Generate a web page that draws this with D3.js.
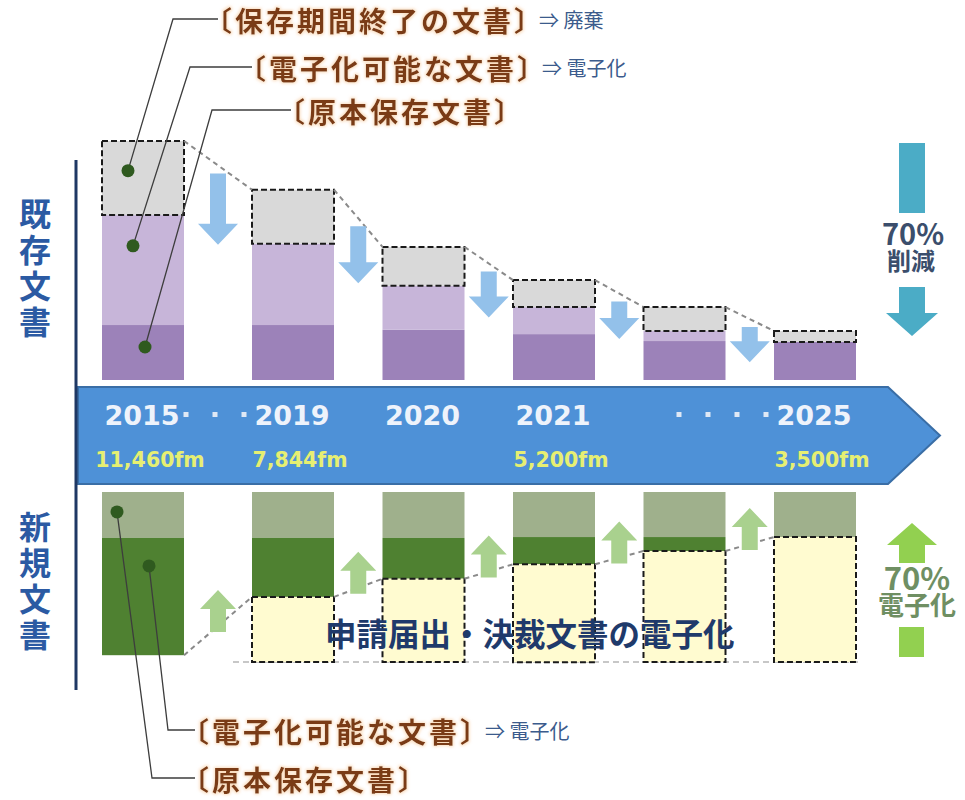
<!DOCTYPE html>
<html lang="ja">
<head>
<meta charset="utf-8">
<title>既存文書・新規文書の削減と電子化</title>
<script src="https://cdn.jsdelivr.net/npm/d3@7/dist/d3.min.js"></script>
<style>
  html, body { margin: 0; padding: 0; background: #ffffff; }
  svg { display: block; }
</style>
</head>
<body>
<svg id="chart" width="965" height="800"></svg>
<script>
// ---------------- data ----------------
// Timeline stages: the 2015 baseline followed by the plan years
const baseStage  = "2015";
const planStages = ["2019", "2020", "2021", "…", "2025"];
const stages     = [baseStage, ...planStages];

// 既存文書 (existing documents), relative volume, 2015 total = 100
const expiredDocs     = [31, 22.6, 16.3, 11.3, 10, 4.6];   // 保存期間終了の文書 ⇒ 廃棄
const digitizableDocs = [46, 34, 18.4, 11.3, 4.2, 0];      // 電子化可能な文書 ⇒ 電子化
const originalDocs    = [23, 23, 21, 19.2, 16.3, 15.9];    // 原本保存文書

// 新規文書 (new documents), share of each year's intake, stacked from the top
const newOriginalDocs    = [27, 27, 27, 26.5, 26.5, 26.5]; // 原本保存文書
const newDigitizableDocs = [69, 34.7, 24, 16, 8.2, 0];     // 電子化可能な文書
const newDigitizedDocs   = [0, 38.3, 49, 57.6, 65.3, 73.5];// 電子化済み (申請届出・決裁文書)

// Timeline band labels
const yearLabels   = ["2015", "2019", "2020", "2021", "", "2025"];
const volumeLabels = ["11,460fm", "7,844fm", "", "5,200fm", "", "3,500fm"];

// ---------------- setup ----------------
const JP = "'Noto Sans CJK JP', 'Noto Sans', sans-serif";
const LAT = "'DejaVu Sans', Verdana, sans-serif";
const svg = d3.select("#chart");

// soft orange halo behind the callout labels
const defs = svg.append("defs");
const glow = defs.append("filter").attr("id", "glow")
  .attr("x", "-10%").attr("y", "-40%").attr("width", "120%").attr("height", "180%");
glow.append("feMorphology").attr("in", "SourceAlpha").attr("operator", "dilate").attr("radius", 1).attr("result", "d");
glow.append("feGaussianBlur").attr("in", "d").attr("stdDeviation", 1.6).attr("result", "b");
glow.append("feFlood").attr("flood-color", "#f7c796").attr("flood-opacity", 0.6);
glow.append("feComposite").attr("in2", "b").attr("operator", "in").attr("result", "g");
const gm = glow.append("feMerge");
gm.append("feMergeNode").attr("in", "g");
gm.append("feMergeNode").attr("in", "SourceGraphic");

// x: the baseline year sits apart from the evenly spaced plan years
const xBase = d3.scaleBand().domain([baseStage]).range([102, 184]);
const xPlan = d3.scaleBand().domain(planStages).range([252, 856]).paddingInner(0.3716);
const x = s => (s === baseStage ? xBase(s) : xPlan(s));
const bw = xPlan.bandwidth();
const cx = s => x(s) + bw / 2;

// y: existing documents grow upward from the band, new documents hang below it
const yTop = d3.scaleLinear().domain([0, 100]).range([380, 141]);
const yBot = d3.scaleLinear().domain([0, 100]).range([492, 662]);

const topRows = stages.map((s, i) => ({
  stage: s, original: originalDocs[i], digitizable: digitizableDocs[i], expired: expiredDocs[i]
}));
const topSeries = d3.stack().keys(["original", "digitizable", "expired"])(topRows);

const botRows = stages.map((s, i) => ({
  stage: s, keep: newOriginalDocs[i], digitizable: newDigitizableDocs[i], digitized: newDigitizedDocs[i]
}));
const botSeries = d3.stack().keys(["keep", "digitizable", "digitized"])(botRows);

const topColors = { original: "#9c82b9", digitizable: "#c7b5d9", expired: "#d9d9d9" };
const botColors = { keep: "#9fb08c", digitizable: "#4f8131", digitized: "#fffbd0" };
const dashedKeys = new Set(["expired", "digitized"]);

function arrowPath(c, yStart, yTip, shaftHalf, headHalf, headLen) {
  const dir = Math.sign(yTip - yStart);
  const hb = yTip - dir * headLen;
  return `M${c - shaftHalf},${yStart}L${c + shaftHalf},${yStart}L${c + shaftHalf},${hb}` +
         `L${c + headHalf},${hb}L${c},${yTip}L${c - headHalf},${hb}L${c - shaftHalf},${hb}Z`;
}

// ---------------- existing documents (top) ----------------
const gTop = svg.append("g");
topSeries.forEach(series => {
  gTop.append("g").selectAll("rect")
    .data(series.filter(p => p[1] - p[0] > 0))
    .join("rect")
    .attr("x", p => x(p.data.stage))
    .attr("y", p => yTop(p[1]))
    .attr("width", bw)
    .attr("height", p => yTop(p[0]) - yTop(p[1]))
    .attr("fill", topColors[series.key])
    .attr("stroke", dashedKeys.has(series.key) ? "#1a1a1a" : "none")
    .attr("stroke-width", 2)
    .attr("stroke-dasharray", "6,3");
});

const topTotal = topRows.map(r => r.original + r.digitizable + r.expired);
// dashed trend line across the tops
gTop.append("g").selectAll("line")
  .data(d3.pairs(d3.range(stages.length)))
  .join("line")
  .attr("x1", ([a]) => x(stages[a]) + bw).attr("y1", ([a]) => yTop(topTotal[a]))
  .attr("x2", ([, b]) => x(stages[b])).attr("y2", ([, b]) => yTop(topTotal[b]))
  .attr("stroke", "#8a8a8a").attr("stroke-width", 2).attr("stroke-dasharray", "5,4");

// reduction arrows in the gaps
gTop.append("g").selectAll("path")
  .data(d3.pairs(d3.range(stages.length)))
  .join("path")
  .attr("d", ([a, b]) => {
    const gx = (x(stages[a]) + bw + x(stages[b])) / 2;
    const top = (yTop(topTotal[a]) + yTop(topTotal[b])) / 2 + 8;
    const len = 18 + (yTop(0) - yTop(expiredDocs[a])) * 0.72;
    return arrowPath(gx, top, top + len, 8, 20, 21);
  })
  .attr("fill", "#93c1ea");

// ---------------- timeline band ----------------
const band = { x0: 78, x1: 888, tip: 940, y0: 387, y1: 484 };
svg.append("path")
  .attr("d", `M${band.x0},${band.y0}L${band.x1},${band.y0}L${band.tip},${(band.y0 + band.y1) / 2}` +
             `L${band.x1},${band.y1}L${band.x0},${band.y1}Z`)
  .attr("fill", "#4e91d7").attr("stroke", "#3a6ea6").attr("stroke-width", 2);

const gBand = svg.append("g");
gBand.selectAll("text.year")
  .data(stages.map((s, i) => ({ s, t: yearLabels[i] })).filter(d => d.t))
  .join("text").attr("class", "year")
  .attr("x", d => cx(d.s) - 1).attr("y", 425)
  .attr("text-anchor", "middle")
  .attr("font-family", LAT).attr("font-weight", "bold").attr("font-size", 27)
  .attr("fill", "#eef3fb")
  .text(d => d.t);

gBand.selectAll("text.vol")
  .data(stages.map((s, i) => ({ s, t: volumeLabels[i] })).filter(d => d.t))
  .join("text").attr("class", "vol")
  .attr("x", d => cx(d.s) + 7).attr("y", 467)
  .attr("text-anchor", "middle")
  .attr("font-family", LAT).attr("font-weight", "bold").attr("font-size", 20.5)
  .attr("fill", "#e6ef72")
  .text(d => d.t);

// ellipsis dots leading into 2019 and 2025
const dotRuns = [{ to: "2019", n: 3 }, { to: "2025", n: 4 }];
dotRuns.forEach(run => {
  const end = cx(run.to) - 37 - 12;
  gBand.append("g").selectAll("rect")
    .data(d3.range(run.n))
    .join("rect")
    .attr("x", k => end - (run.n - 1 - k) * 29 - 2.5)
    .attr("y", 412)
    .attr("width", 5).attr("height", 5)
    .attr("fill", "#dfe8f5");
});

// ---------------- new documents (bottom) ----------------
const gBot = svg.append("g");
const botKD = botRows.map(r => r.keep + r.digitizable);

gBot.append("line")
  .attr("x1", x(planStages[0]) - 19).attr("x2", x(planStages[planStages.length - 1]) + bw + 2)
  .attr("y1", yBot(100)).attr("y2", yBot(100))
  .attr("stroke", "#b5b5b5").attr("stroke-width", 1.5).attr("stroke-dasharray", "6,4");

botSeries.forEach(series => {
  gBot.append("g").selectAll("rect")
    .data(series.filter(p => p[1] - p[0] > 0))
    .join("rect")
    .attr("x", p => x(p.data.stage))
    .attr("y", p => yBot(p[0]))
    .attr("width", bw)
    .attr("height", p => yBot(p[1]) - yBot(p[0]))
    .attr("fill", botColors[series.key])
    .attr("stroke", dashedKeys.has(series.key) ? "#1a1a1a" : "none")
    .attr("stroke-width", 2)
    .attr("stroke-dasharray", "6,3");
});

gBot.append("g").selectAll("line")
  .data(d3.pairs(d3.range(stages.length)))
  .join("line")
  .attr("x1", ([a]) => x(stages[a]) + bw).attr("y1", ([a]) => yBot(botKD[a]))
  .attr("x2", ([, b]) => x(stages[b])).attr("y2", ([, b]) => yBot(botKD[b]))
  .attr("stroke", "#8a8a8a").attr("stroke-width", 2).attr("stroke-dasharray", "5,4");

gBot.append("g").selectAll("path")
  .data(d3.pairs(d3.range(stages.length)))
  .join("path")
  .attr("d", ([a, b]) => {
    const gx = (x(stages[a]) + bw + x(stages[b])) / 2;
    const bottom = (yBot(botKD[a]) + yBot(botKD[b])) / 2 + 6;
    return arrowPath(gx, bottom, bottom - 42, 8, 18, 19);
  })
  .attr("fill", "#a9d18e");

svg.append("text")
  .attr("x", 325).attr("y", 632)
  .attr("dominant-baseline", "central")
  .attr("font-family", JP).attr("font-weight", "bold").attr("font-size", 31.5)
  .attr("fill", "#1f3a6b")
  .text("申請届出・決裁文書の電子化");

// ---------------- right-hand summary ----------------
// two-line captions are drawn in one text element each, as tight stacked lines
const rx = 912;
svg.append("rect").attr("x", rx - 13).attr("y", 143).attr("width", 26).attr("height", 70).attr("fill", "#4bacc6");
svg.append("path").attr("d", arrowPath(rx, 287, 336, 13, 26, 23)).attr("fill", "#4bacc6");
const cut = svg.append("text").attr("text-anchor", "middle")
  .attr("font-family", JP).attr("font-weight", "bold").attr("fill", "#3b4e6c");
cut.append("tspan").attr("x", rx + 1).attr("y", 245).attr("font-size", 29).text("70%");
cut.append("tspan").attr("x", rx - 1).attr("dy", 25).attr("font-size", 24).text("削減");

svg.append("path").attr("d", arrowPath(rx, 563, 523, 13, 25, 22)).attr("fill", "#92d050");
svg.append("rect").attr("x", rx - 13).attr("y", 627).attr("width", 25).attr("height", 30).attr("fill", "#92d050");
const dig = svg.append("text").attr("text-anchor", "middle")
  .attr("font-family", JP).attr("font-weight", "bold").attr("fill", "#6f8f63");
dig.append("tspan").attr("x", rx + 5).attr("y", 590).attr("font-size", 31).text("70%");
dig.append("tspan").attr("x", rx + 5).attr("dy", 25).attr("font-size", 26).text("電子化");

// ---------------- left-hand section labels ----------------
svg.append("line").attr("x1", 76).attr("x2", 76).attr("y1", 160).attr("y2", 690)
  .attr("stroke", "#1f3864").attr("stroke-width", 3);

[{ t: "既存文書", y0: 198 }, { t: "新規文書", y0: 511 }].forEach(lbl => {
  svg.append("text")
    .attr("x", 35).attr("y", lbl.y0)
    .style("writing-mode", "vertical-rl")
    .attr("letter-spacing", 4)
    .attr("font-family", JP).attr("font-weight", "bold").attr("font-size", 32)
    .attr("fill", "#2b5aa3")
    .text(lbl.t);
});

// ---------------- callouts ----------------
const s0 = stages[0];
const topSeg = k => topSeries.find(s => s.key === k)[0];
const botSeg = k => botSeries.find(s => s.key === k)[0];
const calloutFont = 28;

const callouts = [
  { label: "〔保存期間終了の文書〕", note: "⇒ 廃棄",
    dot: [x(s0) + 26, yTop(topSeg("expired")[0] + (topSeg("expired")[1] - topSeg("expired")[0]) * 0.6)],
    elbow: [173, 19], end: 218 },
  { label: "〔電子化可能な文書〕", note: "⇒ 電子化",
    dot: [x(s0) + 31, yTop(topSeg("digitizable")[1] - (topSeg("digitizable")[1] - topSeg("digitizable")[0]) * 0.28)],
    elbow: [190, 67], end: 252 },
  { label: "〔原本保存文書〕", note: "",
    dot: [x(s0) + 43, yTop(topSeg("original")[0] + (topSeg("original")[1] - topSeg("original")[0]) * 0.6)],
    elbow: [212, 110], end: 291 },
  { label: "〔電子化可能な文書〕", note: "⇒ 電子化",
    dot: [x(s0) + 47, yBot(botSeg("digitizable")[0]) + 28],
    elbow: [168, 730], end: 195 },
  { label: "〔原本保存文書〕", note: "",
    dot: [x(s0) + 15, yBot((botSeg("keep")[0] + botSeg("keep")[1]) / 2) - 3],
    elbow: [152, 778], end: 195 }
];

const gCall = svg.append("g");
callouts.forEach(c => {
  gCall.append("polyline")
    .attr("points", [c.dot, c.elbow, [c.end, c.elbow[1]]].map(p => p.join(",")).join(" "))
    .attr("fill", "none").attr("stroke", "#3d3d3d").attr("stroke-width", 1.3);
  gCall.append("circle").attr("cx", c.dot[0]).attr("cy", c.dot[1]).attr("r", 6.5)
    .attr("fill", "#2f5a1f");
  const t = gCall.append("text")
    .attr("x", c.end - calloutFont * 0.5).attr("y", c.elbow[1] + 1)
    .attr("dominant-baseline", "central")
    .attr("font-family", JP).attr("font-weight", "bold").attr("font-size", calloutFont)
    .attr("letter-spacing", 3)
    .attr("fill", "#7a3b12").attr("filter", "url(#glow)")
    .text(c.label);
  if (c.note) {
    const box = t.node().getBBox();
    gCall.append("text")
      .attr("x", box.x + box.width - 6).attr("y", c.elbow[1])
      .attr("dominant-baseline", "central")
      .attr("font-family", JP).attr("font-size", 20)
      .attr("fill", "#3b5b8c")
      .text(c.note);
  }
});
</script>
</body>
</html>
